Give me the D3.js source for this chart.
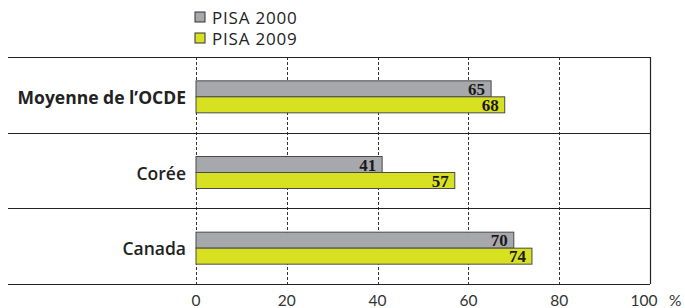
<!DOCTYPE html>
<html>
<head>
<meta charset="utf-8">
<script src="https://cdn.jsdelivr.net/npm/d3@7"></script>
<style>
  body { margin: 0; background: #fff; }
  svg { display: block; }
</style>
</head>
<body>
<div id="chart"></div>
<script>
// data
const categories = ["Moyenne de l’OCDE", "Corée", "Canada"];
const series = ["PISA 2000", "PISA 2009"];
const values2000 = [65, 41, 70];
const values2009 = [68, 57, 74];
const tickValues = [0, 20, 40, 60, 80, 100];

const colors = ["#a7a8ac", "#d7e021"];

const width = 685, height = 308;
const margin = { top: 57, right: 35, bottom: 24, left: 196 };

const svg = d3.select("#chart").append("svg")
    .attr("width", width)
    .attr("height", height);

const x = d3.scaleLinear()
    .domain([0, 100])
    .range([margin.left, width - margin.right]);

const y = d3.scaleBand()
    .domain(categories)
    .range([margin.top, height - margin.bottom]);

const inner = d3.scaleBand()
    .domain(series)
    .range([0, 32]);

// dashed grid lines
svg.append("g")
    .selectAll("line")
    .data(tickValues.slice(0, -1))
    .join("line")
    .attr("x1", d => Math.round(x(d)) + 0.5)
    .attr("x2", d => Math.round(x(d)) + 0.5)
    .attr("y1", margin.top)
    .attr("y2", height - margin.bottom)
    .attr("stroke", "#333")
    .attr("stroke-width", 1)
    .attr("stroke-dasharray", "3,2");

// horizontal separators
const seps = [margin.top, ...categories.map(c => y(c) + y.bandwidth())];
svg.append("g")
    .selectAll("line")
    .data(seps)
    .join("line")
    .attr("x1", 8)
    .attr("x2", x(100))
    .attr("y1", d => Math.round(d) + 0.5)
    .attr("y2", d => Math.round(d) + 0.5)
    .attr("stroke", "#222")
    .attr("stroke-width", 1.2);

// right border
svg.append("line")
    .attr("x1", x(100) + 0.5)
    .attr("x2", x(100) + 0.5)
    .attr("y1", margin.top)
    .attr("y2", height - margin.bottom)
    .attr("stroke", "#222")
    .attr("stroke-width", 1.2);

// bars
const rows = categories.map((c, i) => ({ cat: c, vals: [values2000[i], values2009[i]] }));

const groups = svg.append("g")
    .selectAll("g")
    .data(rows)
    .join("g")
    .attr("transform", d => `translate(0,${y(d.cat) + y.bandwidth() / 2 - 14})`);

groups.selectAll("rect")
    .data(d => d.vals.map((v, j) => ({ s: series[j], v: v, j: j })))
    .join("rect")
    .attr("x", x(0))
    .attr("y", d => inner(d.s))
    .attr("width", d => x(d.v) - x(0))
    .attr("height", inner.bandwidth())
    .attr("fill", d => colors[d.j])
    .attr("stroke", "#4a4a4a")
    .attr("stroke-width", 1);

groups.selectAll("text")
    .data(d => d.vals.map((v, j) => ({ s: series[j], v: v })))
    .join("text")
    .attr("x", d => x(d.v) - 6)
    .attr("y", d => inner(d.s) + inner.bandwidth() / 2 + 6)
    .attr("text-anchor", "end")
    .attr("font-family", "'Liberation Serif', 'DejaVu Serif', serif")
    .attr("font-weight", "bold")
    .attr("font-size", 17)
    .attr("fill", "#1a1a1a")
    .text(d => d.v);

// category labels
svg.append("g")
    .selectAll("text")
    .data(categories)
    .join("text")
    .attr("x", 186)
    .attr("y", d => y(d) + y.bandwidth() / 2 + 9)
    .attr("text-anchor", "end")
    .attr("font-family", "'Open Sans', Lato, sans-serif")
    .attr("font-weight", (d, i) => i === 0 ? 700 : 600)
    .attr("font-size", 17.5)
    .attr("fill", "#222")
    .text(d => d);

// x axis tick labels
svg.append("g")
    .selectAll("text")
    .data(tickValues)
    .join("text")
    .attr("x", d => x(d) - (d === 100 ? 6 : 0))
    .attr("y", 306)
    .attr("text-anchor", "middle")
    .attr("font-family", "Lato, 'Open Sans', sans-serif")
    .attr("font-size", 15.5)
    .attr("fill", "#333")
    .text(d => d);

svg.append("text")
    .attr("x", 669)
    .attr("y", 306)
    .attr("font-family", "Lato, 'Open Sans', sans-serif")
    .attr("font-size", 15.5)
    .attr("fill", "#333")
    .text("%");

// legend
const legend = svg.append("g")
    .selectAll("g")
    .data(series)
    .join("g")
    .attr("transform", (d, i) => `translate(195,${12 + i * 21})`);

legend.append("rect")
    .attr("width", 10)
    .attr("height", 10)
    .attr("fill", (d, i) => colors[i])
    .attr("stroke", "#333")
    .attr("stroke-width", 1);

legend.append("text")
    .attr("x", 17)
    .attr("y", 12)
    .attr("font-family", "'Open Sans', Lato, sans-serif")
    .attr("font-size", 17)
    .attr("letter-spacing", 0.8)
    .attr("fill", "#222")
    .text(d => d);
</script>
</body>
</html>
